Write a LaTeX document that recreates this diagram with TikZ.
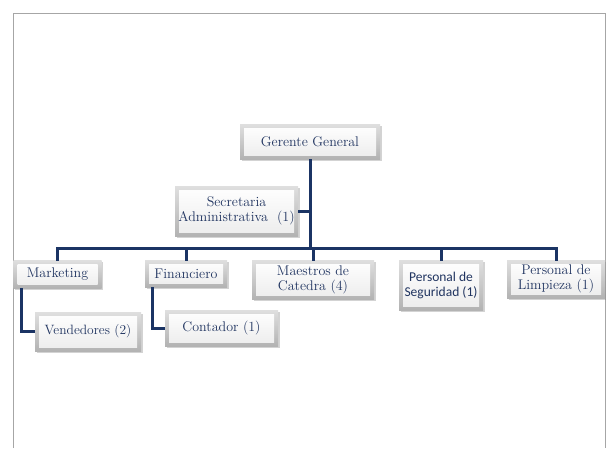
\documentclass[tikz,border=0pt]{standalone}
\usepackage{fontspec}
\newfontfamily\calibrifont{Carlito}
\usetikzlibrary{positioning, calc, shadows}
\definecolor{navyline}{RGB}{27,52,100}
\definecolor{navytext}{RGB}{32,52,96}

\begin{document}
\begin{tikzpicture}[
    x=1pt, y=-1pt,
    box/.style={rectangle, top color=gray!25, bottom color=gray!60, text=navytext,
        align=center, inner sep=1pt, font=\fontsize{14}{15}\selectfont,
        drop shadow={shadow xshift=1.5pt, shadow yshift=-1.5pt, opacity=0.35},
        path picture={\shade[top color=white, bottom color=gray!15]
            ([shift={(4pt,4pt)}]path picture bounding box.south west) rectangle
            ([shift={(-4pt,-4pt)}]path picture bounding box.north east);}},
    link/.style={draw=navyline, line width=3pt}
]
\useasboundingbox (0,0) rectangle (606,448);

% Page frame
\draw[gray!70, line width=0.8pt] (13,448) -- (13,13) -- (605,13) -- (605,448);

% Top
\node[box, minimum width=140, minimum height=35] (gerente) at (310,141.5) {Gerente General};

% Staff
\node[box, minimum width=123, minimum height=50] (secretaria) at (236.5,211) {Secretaria\\Administrativa\ \ (1)};

% Departments
\node[box, minimum width=88, minimum height=28] (marketing) at (57.5,274) {Marketing};
\node[box, minimum width=82, minimum height=27] (financiero) at (186,273.5) {Financiero};
\node[box, minimum width=122, minimum height=39] (maestros) at (313,279.5) {Maestros de\\Catedra (4)};
\node[box, minimum width=84, minimum height=50, font=\calibrifont\fontsize{13.5}{15}\selectfont] (seguridad) at (441,285) {Personal de\\Seguridad (1)};
\node[box, minimum width=98, minimum height=38] (limpieza) at (556,279) {Personal de\\Limpieza (1)};

% Sub-units
\node[box, minimum width=106, minimum height=39, font=\fontsize{13.5}{15}\selectfont] (vendedores) at (88,331.5) {Vendedores (2)};
\node[box, minimum width=113, minimum height=36] (contador) at (221.5,328) {Contador (1)};

% Lines
\coordinate (hub) at (310,248);
\draw[link] (gerente) -- (hub);
\draw[link] (secretaria.east) -- (secretaria.east -| hub);
\foreach \dept in {marketing, financiero, maestros, seguridad, limpieza}
    \draw[link, line cap=rect] (hub) -| (\dept.north);
\draw[link] ([xshift=8pt]marketing.south west) |- (vendedores.west);
\draw[link] ([xshift=8pt]financiero.south west) |- (contador.west);

\end{tikzpicture}
\end{document}
